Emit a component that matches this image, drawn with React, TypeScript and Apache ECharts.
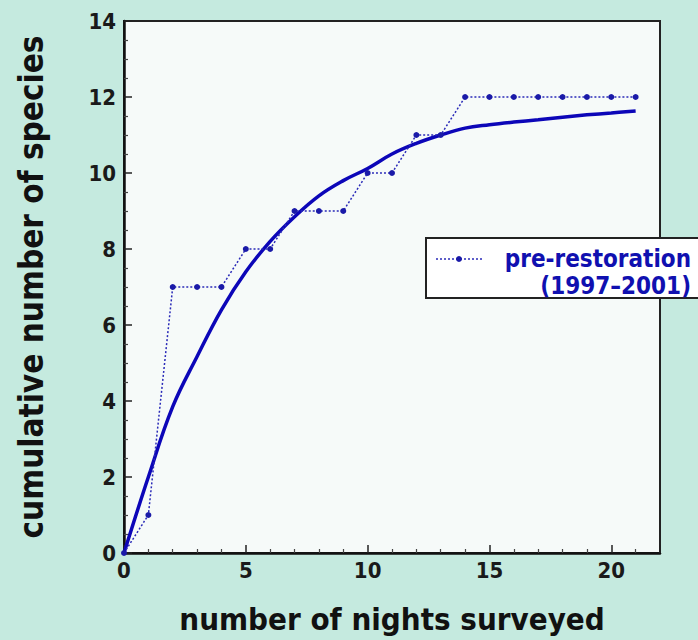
import React, { useEffect, useRef } from "react";
import * as echarts from "echarts";

const nights = [0, 1, 2, 3, 4, 5, 6, 7, 8, 9, 10, 11, 12, 13, 14, 15, 16, 17, 18, 19, 20, 21];
const observedSpecies = [0, 1, 7, 7, 7, 8, 8, 9, 9, 9, 10, 10, 11, 11, 12, 12, 12, 12, 12, 12, 12, 12];
const fittedSpecies = [0, 2.0, 3.85, 5.17, 6.4, 7.4, 8.2, 8.85, 9.4, 9.8, 10.12, 10.5, 10.78, 11.0, 11.18, 11.27, 11.34, 11.4, 11.47, 11.53, 11.58, 11.63];
const xTicks = [0, 5, 10, 15, 20];
const yTicks = [0, 2, 4, 6, 8, 10, 12, 14];
const legendLines = ["pre-restoration", "(1997\u20132001)"];

const FONT = "'DejaVu Sans Condensed', 'DejaVu Sans'";
const BLUE = "#1010b0";

export default function App() {
  const ref = useRef<HTMLDivElement>(null);
  useEffect(() => {
    if (!ref.current) return;
    const chart = echarts.init(ref.current, null, { renderer: "svg" });
    const axisLabel = { fontFamily: FONT, fontWeight: "bold", fontSize: 22, color: "#1a1a1a" };
    chart.setOption({
      animation: false,
      backgroundColor: "#c5eadf",
      grid: {
        left: 124,
        top: 21,
        right: 38,
        bottom: 87,
        show: true,
        backgroundColor: "#f6faf9",
        borderColor: "#222",
        borderWidth: 2,
      },
      xAxis: {
        type: "value",
        min: 0,
        max: 22,
        interval: 5,
        name: "number of nights surveyed",
        nameLocation: "middle",
        nameGap: 50,
        nameTextStyle: { fontFamily: FONT, fontWeight: "bold", fontSize: 31, color: "#111" },
        axisLine: { show: true, onZero: false, lineStyle: { color: "#111", width: 2.5 } },
        axisTick: { show: true, inside: true, length: 8, lineStyle: { color: "#222", width: 1.5 } },
        minorTick: { show: true, splitNumber: 5, length: 4, lineStyle: { color: "#444", width: 1.2 } },
        splitLine: { show: false },
        axisLabel: {
          ...axisLabel,
          margin: 6,
          formatter: (v: number) => (xTicks.includes(v) ? String(v) : ""),
        },
      },
      yAxis: {
        type: "value",
        min: 0,
        max: 14,
        interval: 2,
        name: "cumulative number of species",
        nameLocation: "middle",
        nameGap: 76,
        nameTextStyle: { fontFamily: FONT, fontWeight: "bold", fontSize: 33, color: "#111" },
        axisLine: { show: true, onZero: false, lineStyle: { color: "#111", width: 2.5 } },
        axisTick: { show: true, inside: true, length: 8, lineStyle: { color: "#222", width: 1.5 } },
        minorTick: { show: true, splitNumber: 4, length: 4, lineStyle: { color: "#444", width: 1.2 } },
        splitLine: { show: false },
        axisLabel: {
          ...axisLabel,
          margin: 8,
          formatter: (v: number) => (yTicks.includes(v) ? String(v) : ""),
        },
      },
      series: [
        {
          name: "fitted",
          type: "line",
          data: nights.map((n, i) => [n, fittedSpecies[i]]),
          smooth: 0.4,
          showSymbol: false,
          lineStyle: { color: "#0c06b8", width: 3.5 },
          z: 2,
        },
        {
          name: "pre-restoration (1997–2001)",
          type: "line",
          data: nights.map((n, i) => [n, observedSpecies[i]]),
          symbol: "circle",
          symbolSize: 6,
          itemStyle: { color: "#1a1aa8" },
          lineStyle: { color: "#2a2ab8", width: 1.5, type: [2, 2] },
          z: 3,
        },
      ],
      graphic: [
        {
          type: "rect",
          shape: { x: 426, y: 238, width: 280, height: 60 },
          style: { fill: "#ffffff", stroke: "#222", lineWidth: 2 },
          z: 10,
        },
        {
          type: "line",
          shape: { x1: 436, y1: 259, x2: 482, y2: 259 },
          style: { stroke: "#2a2ab8", lineWidth: 1.5, lineDash: [2, 2] },
          z: 11,
        },
        {
          type: "circle",
          shape: { cx: 459, cy: 259, r: 3 },
          style: { fill: "#1a1aa8" },
          z: 11,
        },
        {
          type: "text",
          x: 691,
          y: 272,
          style: {
            text: legendLines.join("\n"),
            fill: BLUE,
            font: `bold 24px ${FONT}`,
            lineHeight: 27,
            align: "right",
            verticalAlign: "middle",
          },
          z: 11,
        },
      ],
    });
    return () => chart.dispose();
  }, []);
  return <div ref={ref} style={{ width: 698, height: 640, position: "absolute", left: 0, top: 0 }} />;
}
